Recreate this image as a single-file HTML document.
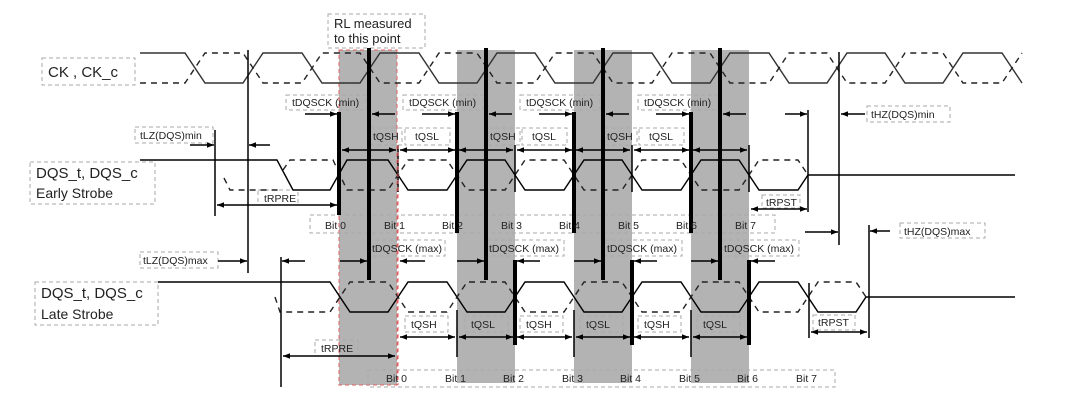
<!DOCTYPE html>
<html><head><meta charset="utf-8"><style>
html,body{margin:0;padding:0;background:#fff;}
svg{display:block;}
text{font-family:"Liberation Sans",sans-serif;font-size:10.5px;fill:#222;}
.big{font-size:15px;}
.lb{fill:none;stroke:#aaa;stroke-dasharray:4 3;stroke-width:1;}
</style></head><body>
<svg width="1080" height="404" viewBox="0 0 1080 404" xmlns="http://www.w3.org/2000/svg">
<defs>
<marker id="a" viewBox="0 0 10 10" refX="10" refY="5" markerWidth="7" markerHeight="7" orient="auto-start-reverse" markerUnits="userSpaceOnUse"><path d="M0,1 L10,5 L0,9z" fill="#000"/></marker>
</defs>
<g fill="#b3b3b3">
<rect x="339" y="50" width="58" height="335"/>
<rect x="457" y="50" width="58" height="333"/>
<rect x="574" y="50" width="58" height="333"/>
<rect x="691" y="50" width="58" height="333"/>
</g>
<rect x="339" y="50" width="58" height="335" fill="none" stroke="#e06060" stroke-dasharray="4 3" stroke-width="1"/>

<rect class="lb" x="328" y="14" width="97" height="34"/>
<rect class="lb" x="42" y="58" width="93" height="27"/>
<rect class="lb" x="30" y="162" width="125" height="42"/>
<rect class="lb" x="35" y="282" width="123" height="43"/>
<rect class="lb" x="286" y="95" width="80" height="15"/>
<rect class="lb" x="403" y="95" width="80" height="15"/>
<rect class="lb" x="520" y="95" width="80" height="15"/>
<rect class="lb" x="638" y="95" width="80" height="15"/>
<rect class="lb" x="135" y="127" width="78" height="16"/>
<rect class="lb" x="258" y="190" width="40" height="15"/>
<rect class="lb" x="310" y="215" width="465" height="18"/>
<rect class="lb" x="762" y="195" width="38" height="13"/>
<rect class="lb" x="867" y="106" width="83" height="16"/>
<rect class="lb" x="900" y="223" width="85" height="15"/>
<rect class="lb" x="140" y="252" width="78" height="16"/>
<rect class="lb" x="368" y="240" width="77" height="16"/>
<rect class="lb" x="487" y="240" width="77" height="16"/>
<rect class="lb" x="605" y="240" width="77" height="16"/>
<rect class="lb" x="722" y="240" width="77" height="16"/>
<rect class="lb" x="315" y="340" width="43" height="16"/>
<rect class="lb" x="368" y="370" width="467" height="17"/>
<rect class="lb" x="813" y="315" width="42" height="15"/>
<rect class="lb" x="370" y="128" width="32" height="17"/>
<rect class="lb" x="405" y="128" width="45" height="17"/>
<rect class="lb" x="488" y="128" width="32" height="17"/>
<rect class="lb" x="522" y="128" width="45" height="17"/>
<rect class="lb" x="605" y="128" width="32" height="17"/>
<rect class="lb" x="639" y="128" width="45" height="17"/>
<rect class="lb" x="405" y="316" width="43" height="16"/>
<rect class="lb" x="465" y="316" width="43" height="16"/>
<rect class="lb" x="520" y="316" width="43" height="16"/>
<rect class="lb" x="580" y="316" width="43" height="16"/>
<rect class="lb" x="638" y="316" width="43" height="16"/>
<rect class="lb" x="697" y="316" width="43" height="16"/>

<g fill="none" stroke="#333" stroke-width="1.4">
<path d="M140,53 H185 L205,83 H243 L263,53 H302 L322,83 H360 L380,53 H419 L439,83 H477 L497,53 H535 L555,83 H593 L613,53 H652 L672,83 H710 L730,53 H769 L789,83 H827 L847,53 H885 L905,83 H943 L963,53 H1002 L1022,83"/>
<path d="M140,160 H277 L293,190 H330 L347,160 H388 L408,190 H447 L467,160 H505 L525,190 H564 L584,160 H622 L642,190 H681 L701,160 H739 L759,190 H798 L808,175 H1015" stroke="#000"/>
<path d="M158,282 H330 L350,312 H388 L408,282 H447 L467,312 H505 L525,282 H564 L584,312 H622 L642,282 H681 L701,312 H739 L759,282 H798 L818,312 H856 L866,297 H1015" stroke="#000"/>
</g>
<g fill="none" stroke="#222" stroke-width="1.4" stroke-dasharray="6 5">
<path d="M140,83 H185 L205,53 H243 L263,83 H302 L322,53 H360 L380,83 H419 L439,53 H477 L497,83 H535 L555,53 H593 L613,83 H652 L672,53 H710 L730,83 H769 L789,53 H827 L847,83 H885 L905,53 H943 L963,83 H1002 L1022,53"/>
<path d="M224,178 L230,190 H280"/>
<path d="M283,170 L290,160 H333 L347,190 H388 L408,160 H447 L467,190 H505 L525,160 H564 L584,190 H622 L642,160 H681 L701,190 H739 L759,160 H798 L808,175"/>
<path d="M275,297 L280,312 H330 L350,282 H388 L408,312 H447 L467,282 H505 L525,312 H564 L584,282 H622 L642,312 H681 L701,282 H739 L759,312 H798 L818,282 H856 L866,297"/>
</g>

<g stroke="#000" stroke-width="1.5">
<line x1="248" y1="50" x2="248" y2="273"/>
<line x1="215" y1="130" x2="215" y2="216"/>
<line x1="281" y1="257" x2="281" y2="387"/>
<line x1="808" y1="110" x2="808" y2="212"/>
<line x1="839" y1="52" x2="839" y2="245"/>
<line x1="869" y1="225" x2="869" y2="338"/>
<line x1="809" y1="283" x2="809" y2="338"/>
<line x1="398" y1="145" x2="398" y2="192"/>
<line x1="515" y1="145" x2="515" y2="192"/>
<line x1="632" y1="145" x2="632" y2="192"/>
<line x1="749" y1="145" x2="749" y2="192"/>
<line x1="457" y1="310" x2="457" y2="357"/>
<line x1="574" y1="310" x2="574" y2="357"/>
<line x1="691" y1="310" x2="691" y2="357"/>
</g>
<line x1="398" y1="145" x2="398" y2="385" stroke="#e06060" stroke-dasharray="4 3"/>
<g stroke="#000" stroke-width="4">
<line x1="369" y1="48" x2="369" y2="280"/>
<line x1="486" y1="48" x2="486" y2="280"/>
<line x1="603" y1="48" x2="603" y2="280"/>
<line x1="720" y1="48" x2="720" y2="280"/>
<line x1="339" y1="112" x2="339" y2="215"/>
<line x1="457" y1="112" x2="457" y2="233"/>
<line x1="574" y1="112" x2="574" y2="233"/>
<line x1="691" y1="112" x2="691" y2="233"/>
<line x1="515" y1="260" x2="515" y2="345"/>
<line x1="632" y1="260" x2="632" y2="345"/>
<line x1="749" y1="260" x2="749" y2="345"/>
</g>

<g stroke="#000" stroke-width="1.5" marker-end="url(#a)">
<line x1="305" y1="114" x2="337" y2="114"/><line x1="395" y1="114" x2="372" y2="114"/>
<line x1="422" y1="114" x2="455" y2="114"/><line x1="512" y1="114" x2="489" y2="114"/>
<line x1="539" y1="114" x2="572" y2="114"/><line x1="629" y1="114" x2="606" y2="114"/>
<line x1="656" y1="114" x2="689" y2="114"/><line x1="746" y1="114" x2="723" y2="114"/>
<line x1="785" y1="114" x2="807" y2="114"/><line x1="865" y1="114" x2="841" y2="114"/>
<line x1="190" y1="145" x2="214" y2="145"/><line x1="270" y1="145" x2="249" y2="145"/>
<line x1="805" y1="232" x2="838" y2="232"/><line x1="890" y1="231" x2="870" y2="231"/>
<line x1="218" y1="261" x2="247" y2="261"/><line x1="305" y1="261" x2="282" y2="261"/>
<line x1="340" y1="261" x2="367" y2="261"/><line x1="425" y1="261" x2="400" y2="261"/>
<line x1="457" y1="261" x2="484" y2="261"/><line x1="540" y1="261" x2="517" y2="261"/>
<line x1="574" y1="261" x2="601" y2="261"/><line x1="657" y1="261" x2="634" y2="261"/>
<line x1="691" y1="261" x2="718" y2="261"/><line x1="775" y1="261" x2="751" y2="261"/>
</g>
<g stroke="#000" stroke-width="1.5" marker-start="url(#a)" marker-end="url(#a)">
<line x1="342" y1="150" x2="396" y2="150"/><line x1="400" y1="150" x2="455" y2="150"/>
<line x1="459" y1="150" x2="513" y2="150"/><line x1="517" y1="150" x2="572" y2="150"/>
<line x1="576" y1="150" x2="630" y2="150"/><line x1="634" y1="150" x2="689" y2="150"/>
<line x1="693" y1="150" x2="747" y2="150"/>
<line x1="217" y1="205" x2="337" y2="205"/>
<line x1="751" y1="209" x2="807" y2="209"/>
<line x1="400" y1="337" x2="455" y2="337"/><line x1="459" y1="337" x2="513" y2="337"/>
<line x1="517" y1="337" x2="572" y2="337"/><line x1="576" y1="337" x2="630" y2="337"/>
<line x1="634" y1="337" x2="689" y2="337"/><line x1="693" y1="337" x2="747" y2="337"/>
<line x1="811" y1="332" x2="867" y2="332"/>
<line x1="283" y1="356" x2="395" y2="356"/>
</g>

<text class="big" x="334" y="28" style="font-size:13px">RL measured</text>
<text class="big" x="334" y="43" style="font-size:13px">to this point</text>
<text class="big" x="48" y="77">CK , CK_c</text>
<text class="big" x="36" y="178">DQS_t, DQS_c</text>
<text class="big" x="36" y="198" style="font-size:14px">Early Strobe</text>
<text class="big" x="41" y="298">DQS_t, DQS_c</text>
<text class="big" x="41" y="319" style="font-size:14px">Late Strobe</text>
<text x="292" y="106">tDQSCK (min)</text>
<text x="409" y="106">tDQSCK (min)</text>
<text x="526" y="106">tDQSCK (min)</text>
<text x="644" y="106">tDQSCK (min)</text>
<text x="140" y="139">tLZ(DQS)min</text>
<text x="871" y="118">tHZ(DQS)min</text>
<text x="373" y="140">tQSH</text><text x="415" y="140">tQSL</text>
<text x="490" y="140">tQSH</text><text x="532" y="140">tQSL</text>
<text x="607" y="140">tQSH</text><text x="649" y="140">tQSL</text>
<text x="264" y="202">tRPRE</text>
<text x="766" y="206">tRPST</text>
<text x="325" y="229">Bit 0</text><text x="384" y="229">Bit 1</text><text x="442" y="229">Bit 2</text><text x="501" y="229">Bit 3</text><text x="559" y="229">Bit 4</text><text x="618" y="229">Bit 5</text><text x="676" y="229">Bit 6</text><text x="735" y="229">Bit 7</text>
<text x="904" y="235">tHZ(DQS)max</text>
<text x="143" y="264">tLZ(DQS)max</text>
<text x="372" y="252">tDQSCK (max)</text>
<text x="489" y="252">tDQSCK (max)</text>
<text x="607" y="252">tDQSCK (max)</text>
<text x="724" y="252">tDQSCK (max)</text>
<text x="411" y="328">tQSH</text><text x="471" y="328">tQSL</text>
<text x="526" y="328">tQSH</text><text x="586" y="328">tQSL</text>
<text x="644" y="328">tQSH</text><text x="703" y="328">tQSL</text>
<text x="818" y="326">tRPST</text>
<text x="321" y="352">tRPRE</text>
<text x="386" y="382">Bit 0</text><text x="445" y="382">Bit 1</text><text x="503" y="382">Bit 2</text><text x="562" y="382">Bit 3</text><text x="620" y="382">Bit 4</text><text x="679" y="382">Bit 5</text><text x="737" y="382">Bit 6</text><text x="796" y="382">Bit 7</text>
</svg>
</body></html>
